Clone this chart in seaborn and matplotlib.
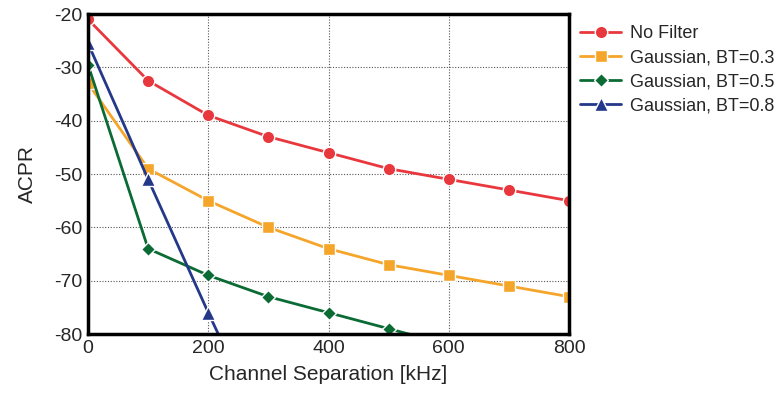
import pandas as pd
import matplotlib.pyplot as plt
import seaborn as sns

sns.set_style('white')
plt.rcParams['font.family'] = ['Liberation Sans', 'DejaVu Sans']
plt.rcParams['axes.unicode_minus'] = False

separation = [0, 100, 200, 300, 400, 500, 600, 700, 800]
no_filter = [-21, -32.5, -39, -43, -46, -49, -51, -53, -55]
bt03 = [-33, -49, -55, -60, -64, -67, -69, -71, -73]
bt05 = [-29.5, -64, -69, -73, -76, -79, -82]
bt08 = [-25.5, -51, -76, -100]

series = {
    'No Filter': no_filter,
    'Gaussian, BT=0.3': bt03,
    'Gaussian, BT=0.5': bt05,
    'Gaussian, BT=0.8': bt08,
}
rows = []
for name, vals in series.items():
    for x, y in zip(separation, vals):
        rows.append({'sep': x, 'acpr': y, 'filter': name})
df = pd.DataFrame(rows)

palette = {'No Filter': '#E8383D', 'Gaussian, BT=0.3': '#F5A52A',
           'Gaussian, BT=0.5': '#0B6B34', 'Gaussian, BT=0.8': '#24388A'}
markers = {'No Filter': 'o', 'Gaussian, BT=0.3': 's',
           'Gaussian, BT=0.5': 'D', 'Gaussian, BT=0.8': '^'}
sizes = {'No Filter': 9, 'Gaussian, BT=0.3': 8.5,
         'Gaussian, BT=0.5': 7.5, 'Gaussian, BT=0.8': 10}

fig = plt.figure(figsize=(7.83, 4.05), dpi=100)
ax = fig.add_axes([0.1124, 0.1753, 0.6143, 0.7901])

for name in series:
    sub = df[df['filter'] == name]
    sns.lineplot(data=sub, x='sep', y='acpr', ax=ax, color=palette[name],
                 marker=markers[name], markersize=sizes[name],
                 markeredgecolor='white', markeredgewidth=1,
                 linewidth=2, label=name, clip_on=True)

ax.set_xlim(0, 800)
ax.set_ylim(-80, -20)
ax.set_xticks([0, 200, 400, 600, 800])
ax.set_yticks(range(-80, -19, 10))
ax.grid(True, color='#555555', linestyle=(0, (1, 1.5)), linewidth=0.8)
for s in ax.spines.values():
    s.set_color('black')
    s.set_linewidth(2.5)
ax.tick_params(direction='in', length=6, width=2.5, labelsize=14, pad=4)
ax.set_xlabel('Channel Separation [kHz]', fontsize=15, labelpad=6)
ax.set_ylabel('ACPR', fontsize=15, labelpad=12)

ax.legend(loc='upper left', bbox_to_anchor=(1.0, 1.0), frameon=False,
          fontsize=13, handlelength=2.3, handletextpad=0.5,
          labelspacing=0.4, borderaxespad=0.2)

fig.savefig('out.png', dpi=100)
